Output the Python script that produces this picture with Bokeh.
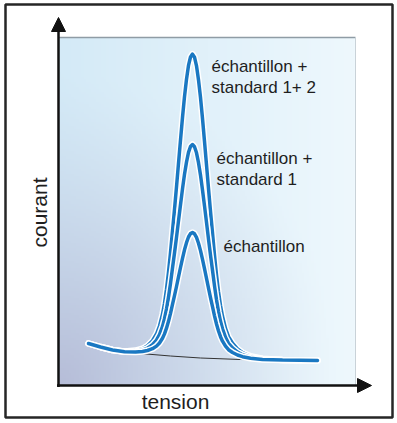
import numpy as np
from bokeh.plotting import figure
from bokeh.models import Range1d, Arrow, NormalHead
from bokeh.embed import file_html
from bokeh.resources import INLINE
from bokeh.core.properties import value

# ---------------- data (arbitrary units) ----------------
tension = [30, 42, 54, 66, 77, 84, 89, 94, 98, 101, 104, 106, 108, 110, 112, 114, 116, 118,
           120, 122, 124, 126, 128, 130, 132, 134,
           136, 138, 140, 142, 144, 146, 148, 150, 152, 154, 156, 158, 160, 162, 164, 167,
           170, 174, 179, 184, 192, 204, 224, 259]

courant_ech_std12 = [42, 38.5, 35.5, 34.1, 34.9, 36.8, 39.8, 44.8, 51.5, 59.5, 71.3, 82.3, 96.2,
                     113.2, 132.8, 154.7, 176.2, 198.7, 222.2, 245.3, 268.0, 288.8, 306.2, 320.1,
                     328.5, 331.4,
                     328.3, 319.7, 305.6, 288.0, 267.0, 244.1, 220.7, 197.0, 174.2, 152.5, 130.3,
                     110.5, 93.8, 80.0, 69.3, 57.1, 48.8, 42.3, 36.6, 32.8, 29.2, 26.8, 25.6, 25.0]

courant_ech_std1 = [42, 38.5, 35.5, 33.9, 34.2, 35.4, 37.3, 40.8, 45.4, 50.9, 59.1, 66.8, 76.4,
                    88.4, 102.1, 117.4, 132.4, 148.1, 164.6, 180.8, 196.6, 211.2, 223.4, 233.1,
                    239.0, 241.0,
                    238.8, 232.7, 222.8, 210.4, 195.6, 179.6, 163.1, 146.4, 130.4, 115.2, 99.6,
                    85.7, 73.9, 64.2, 56.7, 48.1, 42.2, 37.6, 33.5, 30.8, 28.2, 26.5, 25.5, 25.0]

courant_ech = [42, 38.5, 35.5, 33.7, 33.5, 34.0, 35.0, 36.8, 39.4, 42.5, 47.2, 51.6, 57.3,
               64.2, 72.2, 81.1, 89.8, 99.0, 108.6, 118.0, 127.2, 135.7, 142.8, 148.5,
               151.9, 153.0,
               151.7, 148.1, 142.2, 134.9, 126.2, 116.8, 107.1, 97.3, 87.8, 78.9, 69.7,
               61.5, 54.5, 48.8, 44.3, 39.3, 35.8, 33.0, 30.5, 28.8, 27.3, 26.1, 25.4, 25.0]

baseline_tension = [52, 82, 112, 142, 182, 222, 259]
baseline_courant = [34.5, 32.0, 29.5, 27.5, 26.0, 25.2, 24.7]

series = [courant_ech_std12, courant_ech_std1, courant_ech]
labels = [["échantillon +", "standard 1+ 2"],
          ["échantillon +", "standard 1"],
          ["échantillon"]]
axis_labels = ["tension", "courant"]

# ---------------- layout / style constants ----------------
X_MAX, Y_MAX = 313, 368          # axis arrow ends
AREA_W, AREA_H = 297, 348        # shaded plotting area
FRAME = dict(left=-53, right=334, top=381, bottom=-32)   # outer box
label_dx = [19, 24, 31]
label_dy = [-19.5, -21, -21]
LINE_GAP = 21
TEXT_DY = 7                      # compensation of the alphabetic baseline shift
FONT = "Liberation Sans"
BLUE = "#1a78c2"
INK = "#1e1e1e"

p = figure(width=396, height=421, x_range=Range1d(-58, 338), y_range=Range1d(-36, 385),
           output_backend="svg", toolbar_location=None, min_border=0,
           x_axis_type=None, y_axis_type=None)
p.grid.visible = False
p.background_fill_color = "white"
p.border_fill_color = "white"
p.outline_line_color = None

# outer box
p.quad(**FRAME, fill_color=None, line_color="#262626", line_width=2.5)

# gradient background of the plotting area
nx, ny = 120, 140
u = np.linspace(0, 1, nx)[None, :]
v = np.linspace(0, 1, ny)[:, None]
light_l = np.array([212, 234, 247.0])
light_r = np.array([238, 248, 253.0])
lav = np.array([182, 189, 216.0])
w = np.clip(1 - np.sqrt((u / 0.95) ** 2 + (v / 0.9) ** 2), 0, 1) ** 1.3
img = np.empty((ny, nx), dtype=np.uint32)
view = img.view(dtype=np.uint8).reshape((ny, nx, 4))
for k in range(3):
    base = light_l[k] * (1 - u) + light_r[k] * u
    col = base * (1 - w) + lav[k] * w
    view[:, :, k] = np.clip(col, 0, 255).astype(np.uint8)
view[:, :, 3] = 255
p.image_rgba(image=[img], x=0, y=0, dw=AREA_W, dh=AREA_H)
p.line([0, AREA_W], [AREA_H, AREA_H], line_color="#8f9ca5", line_width=1.5)
p.line([AREA_W, AREA_W], [0, AREA_H], line_color="#c9d2d8", line_width=1)

# thin baseline
p.line(baseline_tension, baseline_courant, line_color="#333333", line_width=1)

# curves with white halo
for ys in series:
    p.line(tension, ys, line_color="white", line_width=6.5, line_join="round", line_cap="round")
    p.line(tension, ys, line_color=BLUE, line_width=3.5, line_join="round", line_cap="round")

# peak labels
for ys, lab, dx, dy in zip(series, labels, label_dx, label_dy):
    i = int(np.argmax(ys))
    px, py = tension[i], ys[i]
    for j, line in enumerate(lab):
        p.text(x=[px + dx], y=[py + dy + TEXT_DY - j * LINE_GAP], text=[line],
               text_font=value(FONT), text_font_size="17px", text_color=INK,
               text_align="left", text_baseline="alphabetic")

# axes with arrows
head = dict(size=14, fill_color="#111111", line_color="#111111")
p.add_layout(Arrow(end=NormalHead(**head), x_start=0, y_start=-1.5, x_end=0, y_end=Y_MAX,
                   line_width=2.5, line_color="#111111"))
p.add_layout(Arrow(end=NormalHead(**head), x_start=-1.5, y_start=0, x_end=X_MAX, y_end=0,
                   line_width=2.5, line_color="#111111"))

# axis titles
p.text(x=[117], y=[-23 + TEXT_DY], text=[axis_labels[0]], text_font=value(FONT),
       text_font_size="21px", text_color=INK, text_align="center", text_baseline="alphabetic")
p.text(x=[-19], y=[173], text=[axis_labels[1]], text_font=value(FONT), text_font_size="21px",
       text_color=INK, text_align="center", text_baseline="middle", angle=np.pi / 2)

open("out.html", "w").write(file_html(p, INLINE))
